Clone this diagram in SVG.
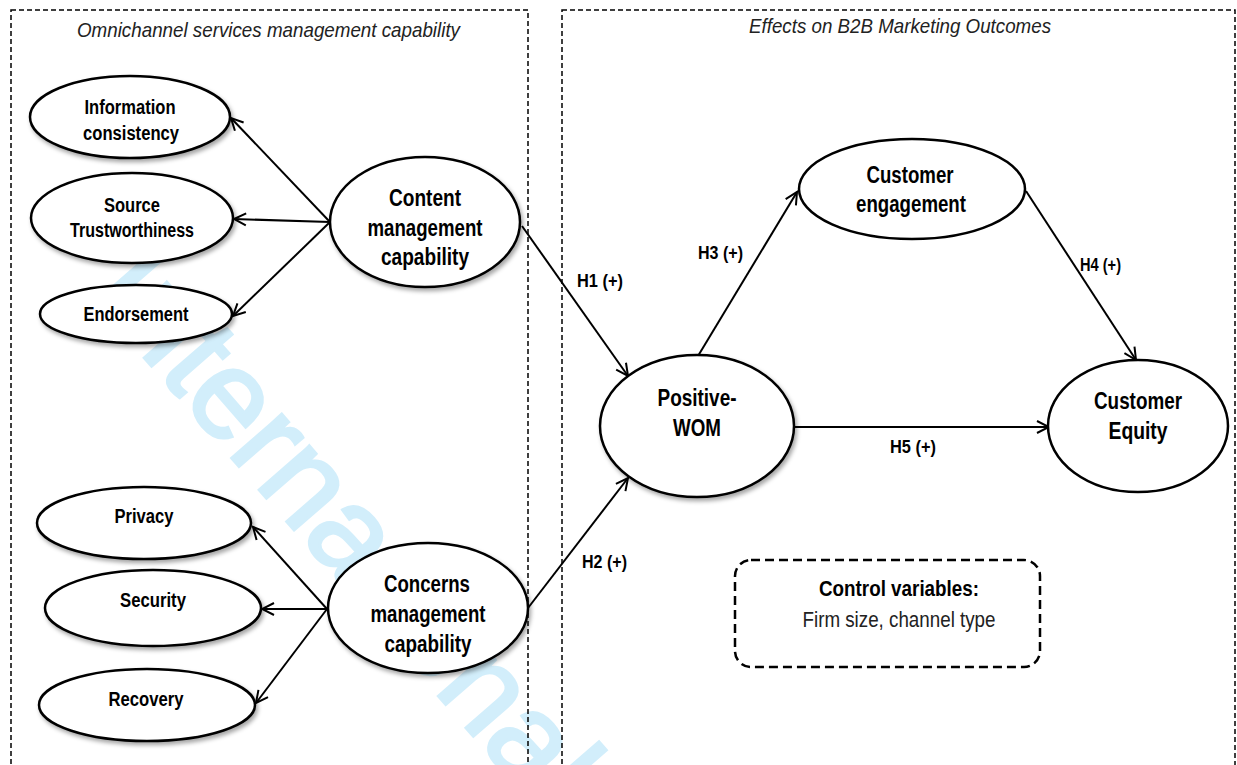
<svg xmlns="http://www.w3.org/2000/svg" width="1237" height="765" viewBox="0 0 1237 765">
<defs>
<style>
.t{font-family:"Liberation Sans Narrow","Liberation Sans",Arial,sans-serif;font-weight:bold;fill:#000;text-anchor:middle}
.ti{font-family:"Liberation Sans Narrow","Liberation Sans",Arial,sans-serif;font-style:italic;fill:#222;text-anchor:middle}
.tn{font-family:"Liberation Sans Narrow","Liberation Sans",Arial,sans-serif;fill:#222;text-anchor:middle}
.s{font-size:20px}
.b{font-size:23px}
.h{font-size:18px}
.e{fill:#fff;stroke:#000;stroke-width:2.5}
.box{fill:none;stroke:#000;stroke-width:1.5;stroke-dasharray:5 3}
.c{stroke:#000;stroke-width:2;fill:none;marker-end:url(#arr)}
</style>
<marker id="arr" viewBox="-14 -8 16 16" refX="0" refY="0" markerWidth="16" markerHeight="16" markerUnits="userSpaceOnUse" orient="auto">
<path d="M-12,-6 L0,0 L-12,6" fill="none" stroke="#000" stroke-width="2"/>
</marker>
<filter id="sh" x="-10%" y="-10%" width="130%" height="140%">
<feDropShadow dx="2" dy="3" stdDeviation="2" flood-color="#000" flood-opacity="0.35"/>
</filter>
</defs>
<rect width="1237" height="765" fill="#fff"/>
<text transform="translate(88,293) rotate(49)" font-family="Liberation Sans,Arial,sans-serif" font-size="126" fill="#d2eefb" stroke="#d2eefb" stroke-width="3">International</text>
<g id="frames">
<rect class="box" x="11" y="10" width="517" height="780"/>
<rect class="box" x="562" y="10" width="673" height="780"/>
<text class="ti" x="268.5" y="37" font-size="21" textLength="383" lengthAdjust="spacingAndGlyphs">Omnichannel services management capability</text>
<text class="ti" x="900" y="33" font-size="21" textLength="302" lengthAdjust="spacingAndGlyphs">Effects on B2B Marketing Outcomes</text>
</g>
<g id="connectors">
<line class="c" x1="330" y1="222" x2="231" y2="118"/>
<line class="c" x1="330" y1="222" x2="234" y2="219"/>
<line class="c" x1="330" y1="222" x2="233" y2="316"/>
<line class="c" x1="327" y1="609" x2="253" y2="527"/>
<line class="c" x1="327" y1="609" x2="262" y2="609"/>
<line class="c" x1="327" y1="609" x2="256" y2="703"/>
<line class="c" x1="522" y1="226" x2="628" y2="376"/>
<line class="c" x1="528" y1="608" x2="628" y2="478"/>
<line class="c" x1="698" y1="356" x2="797" y2="192"/>
<line class="c" x1="1026" y1="191" x2="1136" y2="360"/>
<line class="c" x1="793" y1="427" x2="1049" y2="427"/>
<text class="t h" x="600" y="287" textLength="46" lengthAdjust="spacingAndGlyphs">H1 (+)</text>
<text class="t h" x="604.5" y="568" textLength="45" lengthAdjust="spacingAndGlyphs">H2 (+)</text>
<text class="t h" x="720.5" y="259" textLength="45" lengthAdjust="spacingAndGlyphs">H3 (+)</text>
<text class="t h" x="1100.5" y="271" textLength="41" lengthAdjust="spacingAndGlyphs">H4 (+)</text>
<text class="t h" x="913" y="453" textLength="46" lengthAdjust="spacingAndGlyphs">H5 (+)</text>
</g>
<g id="information-consistency">
<ellipse class="e" filter="url(#sh)" cx="130" cy="117" rx="100" ry="41"/>
<text class="t s" x="130" y="114" textLength="91" lengthAdjust="spacingAndGlyphs">Information</text>
<text class="t s" x="131" y="140" textLength="96" lengthAdjust="spacingAndGlyphs">consistency</text>
</g>
<g id="source-trustworthiness">
<ellipse class="e" filter="url(#sh)" cx="132" cy="218" rx="101" ry="45"/>
<text class="t s" x="132" y="212" textLength="56" lengthAdjust="spacingAndGlyphs">Source</text>
<text class="t s" x="132" y="237" textLength="124" lengthAdjust="spacingAndGlyphs">Trustworthiness</text>
</g>
<g id="endorsement">
<ellipse class="e" filter="url(#sh)" cx="136" cy="314" rx="96" ry="29"/>
<text class="t s" x="136" y="321" textLength="105" lengthAdjust="spacingAndGlyphs">Endorsement</text>
</g>
<g id="content-management">
<ellipse class="e" filter="url(#sh)" cx="425" cy="222" rx="95" ry="65"/>
<text class="t b" x="425" y="206" textLength="72" lengthAdjust="spacingAndGlyphs">Content</text>
<text class="t b" x="425" y="236" textLength="115" lengthAdjust="spacingAndGlyphs">management</text>
<text class="t b" x="425" y="265" textLength="88" lengthAdjust="spacingAndGlyphs">capability</text>
</g>
<g id="privacy">
<ellipse class="e" filter="url(#sh)" cx="144" cy="523" rx="107" ry="36"/>
<text class="t s" x="144" y="523" textLength="59" lengthAdjust="spacingAndGlyphs">Privacy</text>
</g>
<g id="security">
<ellipse class="e" filter="url(#sh)" cx="153" cy="608" rx="108" ry="38"/>
<text class="t s" x="153" y="607" textLength="66" lengthAdjust="spacingAndGlyphs">Security</text>
</g>
<g id="recovery">
<ellipse class="e" filter="url(#sh)" cx="147" cy="705" rx="108" ry="36"/>
<text class="t s" x="146" y="706" textLength="75" lengthAdjust="spacingAndGlyphs">Recovery</text>
</g>
<g id="concerns-management">
<ellipse class="e" filter="url(#sh)" cx="428" cy="608" rx="100" ry="65"/>
<text class="t b" x="427" y="592" textLength="86" lengthAdjust="spacingAndGlyphs">Concerns</text>
<text class="t b" x="428" y="622" textLength="115" lengthAdjust="spacingAndGlyphs">management</text>
<text class="t b" x="428" y="652" textLength="87" lengthAdjust="spacingAndGlyphs">capability</text>
</g>
<g id="customer-engagement">
<ellipse class="e" cx="912" cy="189" rx="113" ry="50"/>
<text class="t b" x="910" y="183" textLength="87" lengthAdjust="spacingAndGlyphs">Customer</text>
<text class="t b" x="911" y="212" textLength="110" lengthAdjust="spacingAndGlyphs">engagement</text>
</g>
<g id="positive-wom">
<ellipse class="e" filter="url(#sh)" cx="697" cy="426" rx="97" ry="71"/>
<text class="t b" x="697" y="406" textLength="79" lengthAdjust="spacingAndGlyphs">Positive-</text>
<text class="t b" x="697" y="436" textLength="48" lengthAdjust="spacingAndGlyphs">WOM</text>
</g>
<g id="customer-equity">
<ellipse class="e" cx="1138" cy="426" rx="90" ry="66"/>
<text class="t b" x="1138" y="409" textLength="88" lengthAdjust="spacingAndGlyphs">Customer</text>
<text class="t b" x="1138" y="439" textLength="59" lengthAdjust="spacingAndGlyphs">Equity</text>
</g>
<g id="control-variables">
<rect x="735" y="560" width="305" height="107" rx="16" fill="#fff" stroke="#000" stroke-width="2.5" stroke-dasharray="9 5"/>
<text class="t" x="899" y="596" font-size="22" textLength="160" lengthAdjust="spacingAndGlyphs">Control variables:</text>
<text class="tn" x="899" y="627" font-size="22" textLength="193" lengthAdjust="spacingAndGlyphs">Firm size, channel type</text>
</g>
</svg>
